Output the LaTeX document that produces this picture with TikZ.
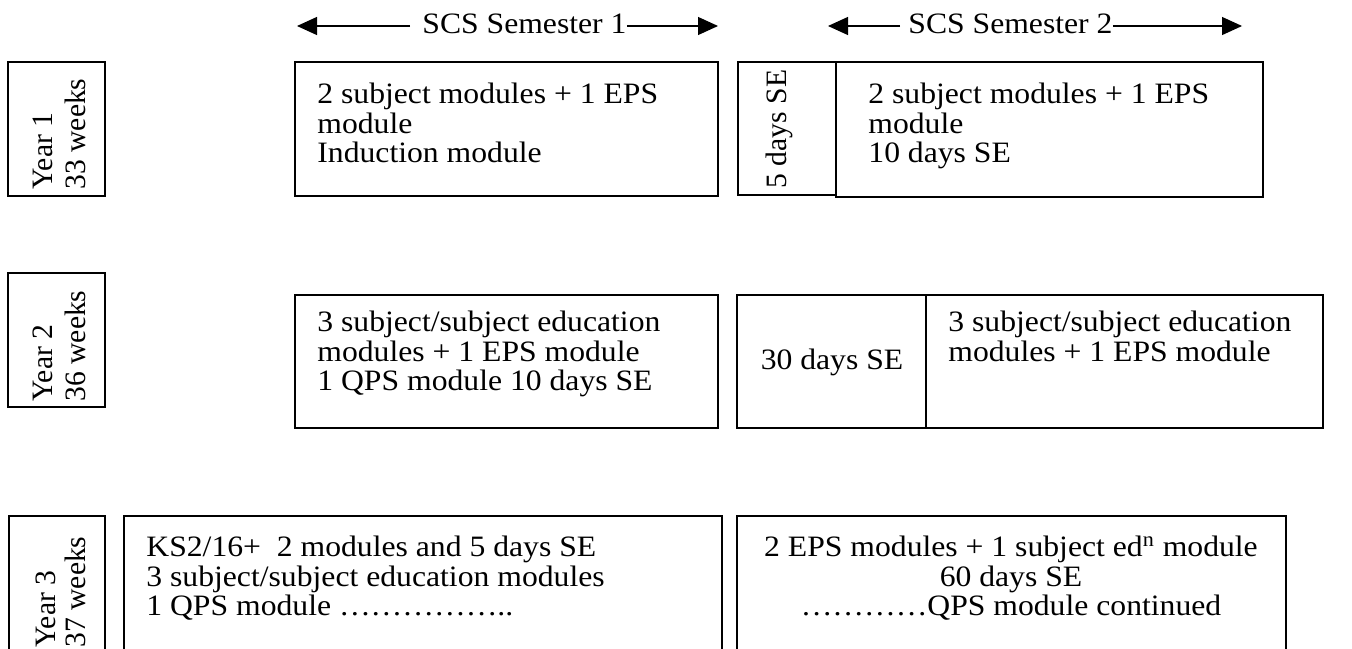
\documentclass[tikz,border=0pt]{standalone}
\usepackage{fontspec}
\setmainfont{Liberation Serif}[FakeStretch=1.07]
\newfontfamily\rotfont{Liberation Serif}
\usetikzlibrary{arrows.meta,fit}
\begin{document}
\begin{tikzpicture}[x=0.5pt,y=-0.5pt,
  box/.style={draw, line width=0.75pt, inner sep=0pt},
  txt/.style={inner sep=0pt, align=left, font=\fontsize{14.8pt}{14.75pt}\selectfont},
  ctxt/.style={inner sep=0pt, align=center, font=\fontsize{14.8pt}{14.75pt}\selectfont},
  rtxt/.style={inner sep=0pt, align=left, rotate=90, font={\rotfont\fontsize{14.8pt}{16.5pt}\selectfont}},
  arr/.style={line width=0.6pt, -{Triangle[length=10pt,width=9pt]}},
]
\useasboundingbox (0,0) rectangle (1352,648);
\clip (0,0) rectangle (1352,648);

% semester headers
\node[txt, anchor=base west] (sem1) at (422,33) {SCS Semester 1};
\coordinate (s1l) at (297,26);
\coordinate (s1r) at (718,26);
\draw[arr, shorten <=6pt] (sem1.west |- s1l) -- (s1l);
\draw[arr] (sem1.east |- s1r) -- (s1r);

\node[txt, anchor=base west] (sem2) at (908,33) {SCS Semester 2};
\coordinate (s2l) at (828,26);
\coordinate (s2r) at (1242,26);
\draw[arr, shorten <=4pt] (sem2.west |- s2l) -- (s2l);
\draw[arr] (sem2.east |- s2r) -- (s2r);

% Year 1
\node[box, fit={(8,62)(105,196)}] (y1) {};
\node[rtxt] (y1t) at (59,134) {Year 1\\33 weeks};
\node[box, fit={(295,62)(718,196)}] (a1) {};
\node[txt, anchor=north west] (a1t) at (317,83) {2 subject modules + 1 EPS\\module\\Induction module};
\node[box, fit={(738,62)(836,195)}] (b1s) {};
\node[rtxt] (b1st) at (779,129) {5 days SE};
\node[box, fit={(836,62)(1263,197)}] (b1) {};
\node[txt, anchor=north west] (b1t) at (868,83) {2 subject modules + 1 EPS\\module\\10 days SE};

% Year 2
\node[box, fit={(8,273)(105,407)}] (y2) {};
\node[rtxt] (y2t) at (59,346) {Year 2\\36 weeks};
\node[box, fit={(295,295)(718,428)}] (a2) {};
\node[txt, anchor=north west] (a2t) at (317,311) {3 subject/subject education\\modules + 1 EPS module\\1 QPS module 10 days SE};
\node[box, fit={(737,295)(926,428)}] (b2s) {};
\node[txt] (b2st) at (832,362) {30 days SE};
\node[box, fit={(926,295)(1323,428)}] (b2) {};
\node[txt, anchor=north west] (b2t) at (948,311) {3 subject/subject education\\modules + 1 EPS module};

% Year 3
\node[box, fit={(9,516)(105,700)}] (y3) {};
\node[rtxt, font={\rotfont\fontsize{14.8pt}{15pt}\selectfont}] (y3t) at (61,592) {Year 3\\37 weeks};
\node[box, fit={(124,516)(722,700)}] (a3) {};
\node[txt, anchor=north west] (a3t) at (146,536) {KS2/16+\ \ 2 modules and 5 days SE\\3 subject/subject education modules\\1 QPS module …………….. };
\node[box, fit={(737,516)(1286,700)}] (b3) {};
\node[ctxt, anchor=north] (b3t) at (1011,536) {2 EPS modules + 1 subject ed\textsuperscript{n} module\\60 days SE\\…………QPS module continued};
\end{tikzpicture}
\end{document}
